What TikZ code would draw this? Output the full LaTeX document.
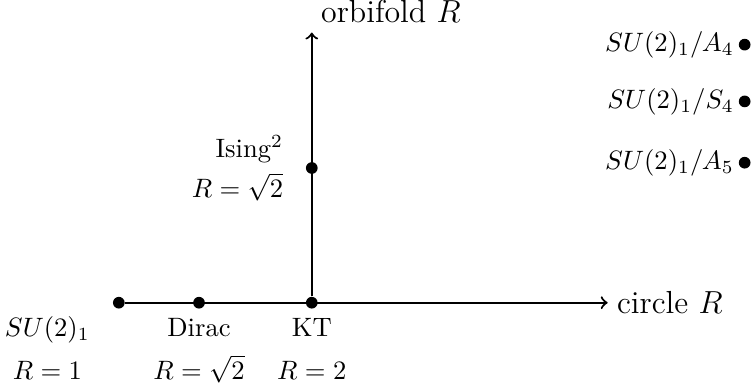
\documentclass[tikz,border=0pt]{standalone}
\usepackage{amsmath, amssymb}
\usetikzlibrary{positioning}

\begin{document}
\begin{tikzpicture}[
    every node/.style={align=center},
    dot/.style={circle, fill=black, inner sep=0pt, minimum size=4.4pt},
    axlbl/.style={font=\large},
    ptlbl/.style={inner sep=1.5pt},
    arr/.style={->, thick}
  ]
    \useasboundingbox (-4.12,-1.14) rectangle (5.83,4.0);

    % circle branch
    \node[dot] (su) at (-2.55,0) {};
    \node[dot] (dirac) at (-1.49,0) {};
    \node[dot] (kt) at (0,0) {};
    \coordinate (cend) at (3.91,0);
    \draw[arr] (su) -- (cend);
    \node[axlbl, right=0pt of cend] (clbl) {circle $R$};
    \node[below left=0mm and 2mm of su] (sulbl) {$SU(2)_1$\\[4pt]$R=1$};
    \node[below=0mm of dirac] (diraclbl) {Dirac\\[4pt]$R=\sqrt{2}$};
    \node[below=0mm of kt] (ktlbl) {KT\\[4pt]$R=2$};

    % orbifold branch
    \node[dot] (ising) at (0,1.78) {};
    \coordinate (oend) at (0,3.57);
    \draw[arr] (kt) -- (oend);
    \node[axlbl, above right=0pt of oend] (olbl) {orbifold $R$};
    \node[left=1.7mm of ising, align=right] (isinglbl) {Ising$^2$\\[3pt]$R=\sqrt{2}$};

    % exceptional points
    \node[dot] (a4) at (5.72,3.41) {};
    \node[dot] (s4) at (5.72,2.66) {};
    \node[dot] (a5) at (5.72,1.85) {};
    \node[ptlbl, left=0pt of a4] (a4lbl) {$SU(2)_1/A_4$};
    \node[ptlbl, left=0pt of s4] (s4lbl) {$SU(2)_1/S_4$};
    \node[ptlbl, left=0pt of a5] (a5lbl) {$SU(2)_1/A_5$};
\end{tikzpicture}
\end{document}
